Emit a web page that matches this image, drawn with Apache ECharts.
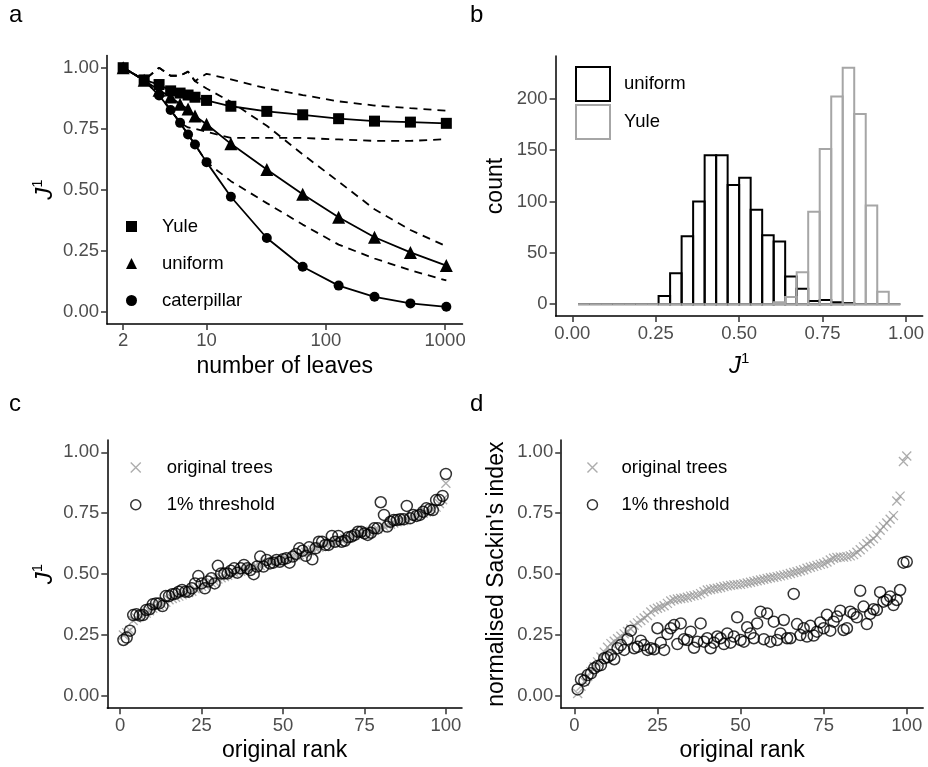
<!DOCTYPE html>
<html><head><meta charset="utf-8">
<script src="https://cdn.jsdelivr.net/npm/echarts@6/dist/echarts.min.js"></script>
<style>html,body{margin:0;padding:0;background:#fff}#c{width:928px;height:767px}</style>
</head><body><div id="c"></div>
<script>
// ---------- panel a ----------
const leafN = [2, 3, 4, 5, 6, 7, 8, 10, 16, 32, 64, 128, 256, 512, 1024];
const yuleJ = [1.0, 0.950, 0.931, 0.905, 0.896, 0.888, 0.879, 0.866, 0.842, 0.821, 0.807, 0.791, 0.781, 0.777, 0.772];
const uniformJ = [1.0, 0.949, 0.908, 0.880, 0.850, 0.831, 0.802, 0.768, 0.688, 0.583, 0.481, 0.387, 0.305, 0.243, 0.189];
const caterpillarJ = [1.0, 0.949, 0.886, 0.827, 0.774, 0.726, 0.685, 0.613, 0.471, 0.302, 0.184, 0.107, 0.061, 0.034, 0.020];
const yuleUpper = [1.0, 0.949, 1.0, 0.967, 0.967, 0.984, 0.945, 0.975, 0.952, 0.915, 0.888, 0.862, 0.845, 0.834, 0.824];
const yuleLower = [1.0, 0.949, 0.886, 0.827, 0.774, 0.755, 0.750, 0.738, 0.712, 0.712, 0.712, 0.706, 0.700, 0.700, 0.707];
const uniformUpper = [1.0, 0.949, 1.0, 0.967, 0.967, 0.984, 0.945, 0.915, 0.860, 0.762, 0.645, 0.533, 0.420, 0.335, 0.268];
const uniformLower = [1.0, 0.949, 0.886, 0.827, 0.774, 0.726, 0.685, 0.613, 0.535, 0.445, 0.357, 0.275, 0.218, 0.170, 0.128];
const aXTicks = [2, 10, 100, 1000];
const unitTicks = [0, 0.25, 0.5, 0.75, 1];

// ---------- panel b ----------
const binLeft = [0.0172, 0.0517, 0.0862, 0.1207, 0.1552, 0.1897, 0.2241, 0.2586, 0.2931, 0.3276, 0.3621, 0.3966, 0.4310, 0.4655,
                 0.5000, 0.5345, 0.5690, 0.6034, 0.6379, 0.6724, 0.7069, 0.7414, 0.7759, 0.8103, 0.8448, 0.8793, 0.9138, 0.9483];
const binWidth = 0.0345;
const uniformCount = [0, 0, 0, 0, 0, 0, 0, 8, 30, 66, 100, 145, 145, 116, 123, 92, 67, 61, 27, 15, 3, 4, 2, 1, 0, 0, 0, 0];
const yuleCount    = [0, 0, 0, 0, 0, 0, 0, 0, 0, 0, 0, 0, 0, 0, 0, 0, 0, 2, 7, 31, 90, 151, 202, 230, 185, 96, 12, 0];
const countTicks = [0, 50, 100, 150, 200];

// ---------- panels c and d ----------
const rankTicks = [0, 25, 50, 75, 100];
const origC = [0.25,0.26,0.27,0.31,0.32,0.33,0.335,0.34,0.35,0.36, 0.365,0.37,0.375,0.385,0.395,0.40,0.405,0.41,0.415,0.42,
  0.425,0.43,0.44,0.445,0.45,0.455,0.46,0.465,0.47,0.48, 0.485,0.49,0.495,0.50,0.505,0.51,0.512,0.515,0.52,0.525,
  0.528,0.53,0.535,0.54,0.545,0.548,0.55,0.553,0.556,0.56, 0.565,0.568,0.572,0.576,0.58,0.585,0.59,0.595,0.60,0.605,
  0.61,0.615,0.62,0.625,0.63,0.632,0.635,0.64,0.645,0.65, 0.655,0.66,0.665,0.668,0.67,0.673,0.676,0.68,0.685,0.69,
  0.695,0.70,0.705,0.71,0.715,0.718,0.72,0.725,0.73,0.735, 0.74,0.745,0.75,0.755,0.76,0.765,0.775,0.79,0.805,0.873];
const threshC = [0.23,0.24,0.268,0.332,0.335,0.33,0.332,0.353,0.356,0.376, 0.38,0.38,0.369,0.41,0.41,0.418,0.42,0.428,0.435,0.428,
  0.428,0.442,0.462,0.492,0.462,0.442,0.47,0.483,0.462,0.534, 0.503,0.503,0.503,0.514,0.524,0.506,0.524,0.538,0.524,0.517,
  0.5,0.531,0.572,0.531,0.558,0.544,0.547,0.558,0.551,0.561, 0.565,0.547,0.572,0.583,0.606,0.596,0.575,0.61,0.561,0.606,
  0.633,0.633,0.62,0.62,0.657,0.633,0.657,0.633,0.637,0.651, 0.654,0.661,0.674,0.674,0.667,0.661,0.67,0.688,0.688,0.795,
  0.743,0.695,0.715,0.722,0.722,0.725,0.725,0.78,0.729,0.743, 0.739,0.743,0.756,0.77,0.766,0.763,0.804,0.804,0.821,0.911];
const origD = [0.01,0.04,0.06,0.08,0.10,0.12,0.14,0.16,0.18,0.20, 0.215,0.225,0.235,0.245,0.255,0.265,0.275,0.29,0.30,0.31,
  0.32,0.33,0.345,0.355,0.36,0.365,0.37,0.38,0.39,0.395, 0.398,0.40,0.402,0.405,0.41,0.412,0.415,0.42,0.428,0.435,
  0.437,0.44,0.442,0.445,0.449,0.452,0.454,0.456,0.457,0.458, 0.461,0.464,0.467,0.47,0.473,0.476,0.479,0.482,0.485,0.487,
  0.49,0.493,0.496,0.499,0.503,0.507,0.51,0.514,0.518,0.524, 0.528,0.532,0.536,0.54,0.544,0.55,0.558,0.565,0.568,0.57,
  0.57,0.572,0.575,0.58,0.59,0.60,0.612,0.625,0.635,0.645, 0.66,0.68,0.695,0.71,0.725,0.74,0.80,0.82,0.962,0.985];
const threshD = [0.027,0.068,0.063,0.086,0.093,0.114,0.123,0.127,0.155,0.159, 0.168,0.151,0.196,0.209,0.189,0.233,0.268,0.196,0.202,0.227,
  0.209,0.189,0.196,0.192,0.278,0.219,0.189,0.254,0.278,0.291, 0.213,0.298,0.233,0.23,0.264,0.198,0.223,0.298,0.223,0.237,
  0.196,0.219,0.244,0.237,0.213,0.257,0.219,0.244,0.323,0.23, 0.223,0.282,0.257,0.237,0.298,0.346,0.233,0.339,0.223,0.305,
  0.23,0.257,0.312,0.237,0.237,0.419,0.295,0.25,0.278,0.244, 0.288,0.248,0.264,0.302,0.278,0.333,0.268,0.305,0.326,0.35,
  0.271,0.278,0.346,0.337,0.323,0.432,0.367,0.295,0.337,0.356, 0.353,0.426,0.387,0.394,0.408,0.373,0.394,0.435,0.547,0.551];
const ranks = origC.map((_, i) => i + 1);

// ---------- styling ----------
const FONT = '"Liberation Sans", Arial, Helvetica, sans-serif';
const GREY_HIST = '#a6a6a6';
const GREY_PT = '#999999';
const CROSS = 'path://M0,0L10,10M0,10L10,0';
const jRich = {
  i: {fontStyle: 'italic', fontSize: 24, fontFamily: FONT, color: '#000', lineHeight: 27, verticalAlign: 'bottom'},
  s: {fontSize: 15, fontFamily: FONT, color: '#000', lineHeight: 15, verticalAlign: 'top'}
};
const fmt2 = v => Number(v).toFixed(2);

function mkAxis(o) {
  return {
    type: o.type || 'value',
    gridIndex: o.grid,
    min: o.min, max: o.max,
    logBase: o.logBase,
    name: o.name, nameLocation: 'middle', nameGap: o.nameGap,
    nameTextStyle: Object.assign({color: '#000', fontSize: 23, fontFamily: FONT}, o.nameStyle || {}),
    axisLine: {show: true, onZero: false, lineStyle: {color: '#000', width: 1.5}},
    axisTick: {show: true, inside: false, length: 6, customValues: o.ticks, lineStyle: {color: '#333', width: 1.5}},
    axisLabel: {show: true, color: '#4d4d4d', fontSize: 18.5, fontFamily: FONT, margin: 8,
                customValues: o.ticks, formatter: o.fmt},
    splitLine: {show: false}, minorTick: {show: false}, minorSplitLine: {show: false}
  };
}

function histSeries(name, counts, color, axisIdx) {
  return {
    type: 'custom', name: name, xAxisIndex: axisIdx, yAxisIndex: axisIdx,
    data: binLeft.map((l, i) => [l, l + binWidth, counts[i]]),
    encode: {x: [0, 1], y: 2},
    itemStyle: {color: 'transparent', borderColor: color, borderWidth: 2},
    renderItem: function (params, api) {
      const p0 = api.coord([api.value(0), api.value(2)]);
      const p1 = api.coord([api.value(1), 0]);
      if (api.value(2) === 0) {
        return {type: 'line', shape: {x1: p0[0], y1: p1[1], x2: p1[0], y2: p1[1]},
                style: {stroke: color, lineWidth: 2}};
      }
      return {type: 'rect', shape: {x: p0[0], y: p0[1], width: p1[0] - p0[0], height: p1[1] - p0[1]},
              style: {fill: 'none', stroke: color, lineWidth: 2}};
    }
  };
}

const legendText = {fontSize: 18.5, fontFamily: FONT, color: '#000', lineHeight: 20};
const panelLetter = (t, l, tp) => ({text: t, left: l, top: tp, padding: 0,
  textStyle: {fontSize: 24, fontWeight: 'normal', fontFamily: FONT, color: '#000'}});
const displayName = {
  'Yule': 'Yule', 'uniform': 'uniform', 'caterpillar': 'caterpillar',
  'hist uniform': 'uniform', 'hist Yule': 'Yule',
  'c original trees': 'original trees', 'c 1% threshold': '1% threshold',
  'd original trees': 'original trees', 'd 1% threshold': '1% threshold'
};

const option = {
  animation: false,
  backgroundColor: '#fff',
  textStyle: {fontFamily: FONT},
  title: [panelLetter('a', 9, 3), panelLetter('b', 470, 3), panelLetter('c', 9, 392), panelLetter('d', 470, 392)],
  grid: [
    {left: 107, top: 55.5, width: 355.5, height: 268.4},
    {left: 555.6, top: 56, width: 367.1, height: 260},
    {left: 107.3, top: 440.1, width: 354.7, height: 268.1},
    {left: 561.2, top: 440.1, width: 362, height: 268.1}
  ],
  xAxis: [
    mkAxis({grid: 0, type: 'log', logBase: 10, min: 1.464, max: 1399, ticks: aXTicks, fmt: v => String(Math.round(v)),
            name: 'number of leaves', nameGap: 31}),
    mkAxis({grid: 1, min: -0.05, max: 1.05, ticks: unitTicks, fmt: fmt2,
            name: '{i|J}{s|1}', nameGap: 35, nameStyle: {rich: jRich}}),
    mkAxis({grid: 2, min: -3.95, max: 104.95, ticks: rankTicks, fmt: v => String(Math.round(v)),
            name: 'original rank', nameGap: 31}),
    mkAxis({grid: 3, min: -3.95, max: 104.95, ticks: rankTicks, fmt: v => String(Math.round(v)),
            name: 'original rank', nameGap: 31})
  ],
  yAxis: [
    mkAxis({grid: 0, min: -0.05, max: 1.05, ticks: unitTicks, fmt: fmt2,
            name: '{i|J}{s|1}', nameGap: 50, nameStyle: {rich: jRich}}),
    mkAxis({grid: 1, min: -11.5, max: 241.5, ticks: countTicks, fmt: v => String(Math.round(v)),
            name: 'count', nameGap: 48}),
    mkAxis({grid: 2, min: -0.05, max: 1.05, ticks: unitTicks, fmt: fmt2,
            name: '{i|J}{s|1}', nameGap: 50, nameStyle: {rich: jRich}}),
    mkAxis({grid: 3, min: -0.05, max: 1.05, ticks: unitTicks, fmt: fmt2,
            name: "normalised Sackin's index", nameGap: 53})
  ],
  legend: [
    {selectedMode: false, orient: 'vertical', padding: 0, left: 126, top: 216.5, itemWidth: 11, itemHeight: 11, itemGap: 17,
     textStyle: Object.assign({padding: [0, 0, 0, 20]}, legendText), formatter: n => displayName[n],
     data: [{name: 'Yule', icon: 'rect', itemStyle: {color: '#000'}},
            {name: 'uniform', icon: 'triangle', itemStyle: {color: '#000'}},
            {name: 'caterpillar', icon: 'circle', itemStyle: {color: '#000'}}]},
    {selectedMode: false, orient: 'vertical', padding: 0, left: 575, top: 66, itemWidth: 34, itemHeight: 34, itemGap: 2,
     textStyle: Object.assign({padding: [0, 0, 0, 9]}, legendText), formatter: n => displayName[n],
     data: [{name: 'hist uniform', icon: 'rect', itemStyle: {color: 'transparent', borderColor: '#000', borderWidth: 2}},
            {name: 'hist Yule', icon: 'rect', itemStyle: {color: 'transparent', borderColor: GREY_HIST, borderWidth: 2}}]},
    {selectedMode: false, orient: 'vertical', padding: 0, left: 130, top: 457.5, itemWidth: 10, itemHeight: 10, itemGap: 17.3,
     textStyle: Object.assign({padding: [0, 0, 0, 21]}, legendText), formatter: n => displayName[n],
     data: [{name: 'c original trees', icon: CROSS, itemStyle: {color: 'transparent', borderColor: GREY_PT, borderWidth: 1.4}},
            {name: 'c 1% threshold', icon: 'circle', itemStyle: {color: 'transparent', borderColor: '#000', borderWidth: 1.5}}]},
    {selectedMode: false, orient: 'vertical', padding: 0, left: 586.7, top: 457.5, itemWidth: 10, itemHeight: 10, itemGap: 17.3,
     textStyle: Object.assign({padding: [0, 0, 0, 19]}, legendText), formatter: n => displayName[n],
     data: [{name: 'd original trees', icon: CROSS, itemStyle: {color: 'transparent', borderColor: GREY_PT, borderWidth: 1.4}},
            {name: 'd 1% threshold', icon: 'circle', itemStyle: {color: 'transparent', borderColor: '#000', borderWidth: 1.5}}]}
  ],
  series: [
    // dashed quantile lines (panel a)
    ...[yuleUpper, yuleLower, uniformUpper, uniformLower].map((arr, k) => ({
      type: 'line', name: 'band' + k, xAxisIndex: 0, yAxisIndex: 0, symbol: 'none', silent: true,
      data: leafN.map((n, i) => [n, arr[i]]),
      lineStyle: {color: '#000', width: 1.8, type: [8, 6]}
    })),
    {type: 'line', name: 'Yule', xAxisIndex: 0, yAxisIndex: 0, symbol: 'rect', symbolSize: 11,
     data: leafN.map((n, i) => [n, yuleJ[i]]), lineStyle: {color: '#000', width: 1.8}, itemStyle: {color: '#000'}},
    {type: 'line', name: 'uniform', xAxisIndex: 0, yAxisIndex: 0, symbol: 'triangle', symbolSize: 13,
     data: leafN.map((n, i) => [n, uniformJ[i]]), lineStyle: {color: '#000', width: 1.8}, itemStyle: {color: '#000'}},
    {type: 'line', name: 'caterpillar', xAxisIndex: 0, yAxisIndex: 0, symbol: 'circle', symbolSize: 10,
     data: leafN.map((n, i) => [n, caterpillarJ[i]]), lineStyle: {color: '#000', width: 1.8}, itemStyle: {color: '#000'}},
    // histograms (panel b)
    histSeries('hist uniform', uniformCount, '#000', 1),
    histSeries('hist Yule', yuleCount, GREY_HIST, 1),
    // panel c
    {type: 'scatter', name: 'c original trees', xAxisIndex: 2, yAxisIndex: 2, symbol: CROSS, symbolSize: 9,
     data: ranks.map((r, i) => [r, origC[i]]), itemStyle: {color: 'transparent', borderColor: GREY_PT, borderWidth: 1.3}},
    {type: 'scatter', name: 'c 1% threshold', xAxisIndex: 2, yAxisIndex: 2, symbol: 'circle', symbolSize: 11,
     data: ranks.map((r, i) => [r, threshC[i]]), itemStyle: {color: 'transparent', borderColor: '#000', borderWidth: 1.5}},
    // panel d
    {type: 'scatter', name: 'd original trees', xAxisIndex: 3, yAxisIndex: 3, symbol: CROSS, symbolSize: 9,
     data: ranks.map((r, i) => [r, origD[i]]), itemStyle: {color: 'transparent', borderColor: GREY_PT, borderWidth: 1.3}},
    {type: 'scatter', name: 'd 1% threshold', xAxisIndex: 3, yAxisIndex: 3, symbol: 'circle', symbolSize: 11,
     data: ranks.map((r, i) => [r, threshD[i]]), itemStyle: {color: 'transparent', borderColor: '#000', borderWidth: 1.5}}
  ]
};

const chart = echarts.init(document.getElementById('c'), null, {renderer: 'canvas'});
chart.setOption(option);
</script>
</body></html>
